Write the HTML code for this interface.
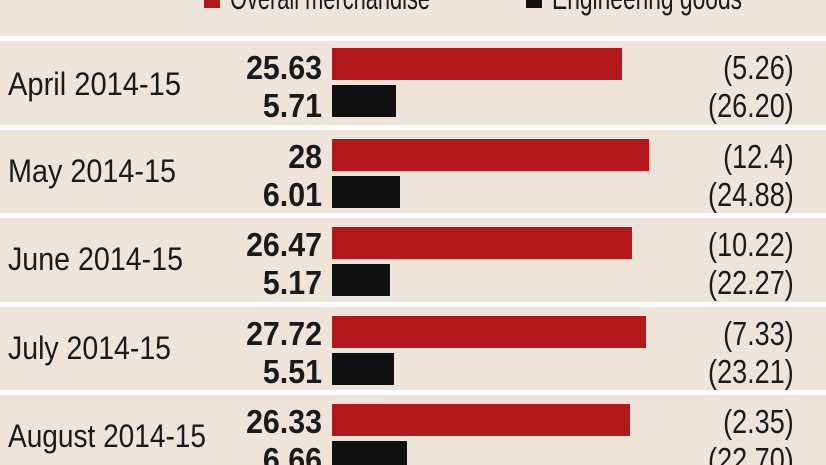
<!DOCTYPE html>
<html><head><meta charset="utf-8"><style>
html,body{margin:0;padding:0;background:#efe4d9;}
svg{display:block}
text{font-family:"Liberation Sans Narrow","Liberation Sans",sans-serif;font-size:32px;fill:#1a1a1a}
.b{font-weight:bold}
.v{font-size:33px}
</style></head><body>
<svg width="826" height="465" viewBox="0 0 826 465" xmlns="http://www.w3.org/2000/svg">
<rect width="826" height="465" fill="#efe4d9"/>
<rect x="204" y="-6" width="16" height="14" fill="#b3191c"/>
<text x="230" y="9" textLength="200" lengthAdjust="spacingAndGlyphs" font-size="29">Overall merchandise</text>
<rect x="526" y="-6" width="16" height="14" fill="#111"/>
<text x="552" y="9" textLength="190" lengthAdjust="spacingAndGlyphs" font-size="29">Engineering goods</text>
<g fill="#ffffff">
<rect x="0" y="36" width="826" height="5"/>
<rect x="0" y="125" width="826" height="5"/>
<rect x="0" y="213" width="826" height="5"/>
<rect x="0" y="302" width="826" height="5"/>
<rect x="0" y="390" width="826" height="5"/>
</g>
<g transform="translate(0,41)">
<text x="8" y="54" textLength="173" lengthAdjust="spacingAndGlyphs">April 2014-15</text>
<text class="b v" transform="scale(0.92,1)" x="350" y="38" text-anchor="end">25.63</text>
<text class="b v" transform="scale(0.92,1)" x="350" y="76" text-anchor="end">5.71</text>
<rect x="332" y="7" width="290" height="32" fill="#b3191c"/>
<rect x="332" y="44" width="64" height="32" fill="#111"/>
<text class="v" transform="scale(0.82,1)" x="968" y="38" text-anchor="end">(5.26)</text>
<text class="v" transform="scale(0.82,1)" x="968" y="76" text-anchor="end">(26.20)</text>
</g>
<g transform="translate(0,130)">
<text x="8" y="52" textLength="168" lengthAdjust="spacingAndGlyphs">May 2014-15</text>
<text class="b v" transform="scale(0.92,1)" x="350" y="38" text-anchor="end">28</text>
<text class="b v" transform="scale(0.92,1)" x="350" y="76" text-anchor="end">6.01</text>
<rect x="332" y="9" width="317" height="32" fill="#b3191c"/>
<rect x="332" y="46" width="68" height="32" fill="#111"/>
<text class="v" transform="scale(0.82,1)" x="968" y="38" text-anchor="end">(12.4)</text>
<text class="v" transform="scale(0.82,1)" x="968" y="76" text-anchor="end">(24.88)</text>
</g>
<g transform="translate(0,218)">
<text x="8" y="52" textLength="175" lengthAdjust="spacingAndGlyphs">June 2014-15</text>
<text class="b v" transform="scale(0.92,1)" x="350" y="38" text-anchor="end">26.47</text>
<text class="b v" transform="scale(0.92,1)" x="350" y="76" text-anchor="end">5.17</text>
<rect x="332" y="9" width="300" height="32" fill="#b3191c"/>
<rect x="332" y="46" width="58" height="32" fill="#111"/>
<text class="v" transform="scale(0.82,1)" x="968" y="38" text-anchor="end">(10.22)</text>
<text class="v" transform="scale(0.82,1)" x="968" y="76" text-anchor="end">(22.27)</text>
</g>
<g transform="translate(0,307)">
<text x="8" y="52" textLength="163" lengthAdjust="spacingAndGlyphs">July 2014-15</text>
<text class="b v" transform="scale(0.92,1)" x="350" y="38" text-anchor="end">27.72</text>
<text class="b v" transform="scale(0.92,1)" x="350" y="76" text-anchor="end">5.51</text>
<rect x="332" y="9" width="314" height="32" fill="#b3191c"/>
<rect x="332" y="46" width="62" height="32" fill="#111"/>
<text class="v" transform="scale(0.82,1)" x="968" y="38" text-anchor="end">(7.33)</text>
<text class="v" transform="scale(0.82,1)" x="968" y="76" text-anchor="end">(23.21)</text>
</g>
<g transform="translate(0,395)">
<text x="8" y="52" textLength="198" lengthAdjust="spacingAndGlyphs">August 2014-15</text>
<text class="b v" transform="scale(0.92,1)" x="350" y="38" text-anchor="end">26.33</text>
<text class="b v" transform="scale(0.92,1)" x="350" y="76" text-anchor="end">6.66</text>
<rect x="332" y="9" width="298" height="32" fill="#b3191c"/>
<rect x="332" y="46" width="75" height="32" fill="#111"/>
<text class="v" transform="scale(0.82,1)" x="968" y="38" text-anchor="end">(2.35)</text>
<text class="v" transform="scale(0.82,1)" x="968" y="76" text-anchor="end">(22.70)</text>
</g>
</svg>
</body></html>
